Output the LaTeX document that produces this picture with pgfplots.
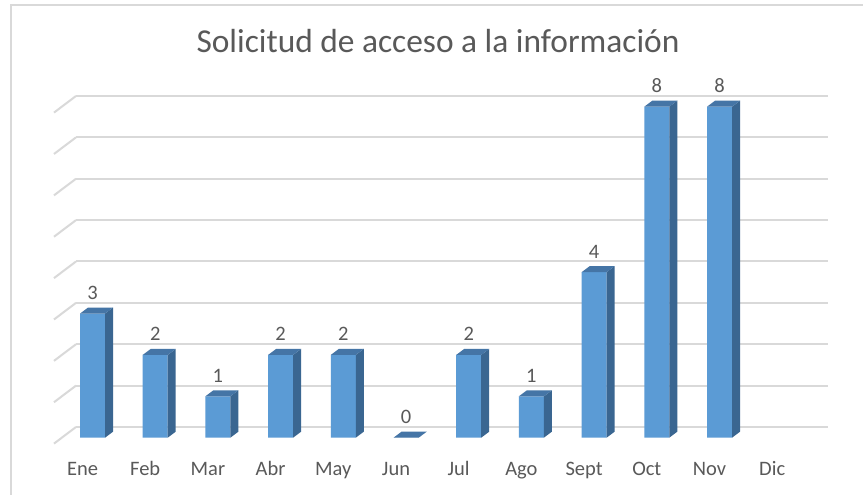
\documentclass[border=0pt]{standalone}
\usepackage{pgfplots}
\pgfplotsset{compat=1.18}
\usepackage{pgfplotstable}
\usepackage{fontspec}
\setmainfont{Carlito}
\definecolor{frontblue}{HTML}{5B9BD5}
\definecolor{sideblue}{HTML}{3A6691}
\definecolor{topblue}{HTML}{4575A6}
\definecolor{gridgray}{HTML}{D9D9D9}
\definecolor{txtgray}{HTML}{595959}
\pgfplotstableread{
x v
0 3
1 2
2 1
3 2
4 2
5 0
6 2
7 1
8 4
9 8
10 8
}\data
\pgfdeclareplotmark{bar3d}{%
  \pgfmathsetmacro\barh{\barv*41.375}%
  \pgfpathmoveto{\pgfpoint{12.5pt}{0pt}}%
  \pgfpathlineto{\pgfpoint{20.5pt}{6pt}}%
  \pgfpathlineto{\pgfpoint{20.5pt}{6pt-\barh pt}}%
  \pgfpathlineto{\pgfpoint{12.5pt}{-\barh pt}}%
  \pgfpathclose
  \pgfsetfillcolor{sideblue}%
  \pgfusepath{fill}%
  \pgfpathmoveto{\pgfpoint{-12.5pt}{0pt}}%
  \pgfpathlineto{\pgfpoint{12.5pt}{0pt}}%
  \pgfpathlineto{\pgfpoint{20.5pt}{6pt}}%
  \pgfpathlineto{\pgfpoint{-4.5pt}{6pt}}%
  \pgfpathclose
  \pgfsetfillcolor{topblue}%
  \pgfusepath{fill}%
}
\begin{document}
\begin{tikzpicture}[x=1pt,y=1pt]
\useasboundingbox (0,0) rectangle (863,495);
\fill[white] (0,0) rectangle (863,495);
\draw[gridgray, line width=2pt] (11,-2) -- (11,490) -- (866,490);
\node[anchor=base, text=txtgray, font=\fontsize{33.4}{38}\selectfont] at (438,442) {Solicitud de acceso a la información};
% back wall
\begin{axis}[
  at={(76pt,68pt)}, anchor=south west,
  x=62.7pt, y=41.375pt,
  xmin=-0.5, xmax=11.5, ymin=0, ymax=8,
  axis line style={draw=none},
  xtick=\empty, ytick={0,...,8}, yticklabels={},
  major tick length=0pt,
  ymajorgrids, grid style={gridgray, line width=2pt},
  clip=false,
]
\pgfplotsinvokeforeach{0,...,8}{\draw[gridgray, line width=2pt] (axis cs:-0.5,#1) -- ++(-22pt,-16.6pt);}
\end{axis}
% bars
\begin{axis}[
  at={(61.15pt,57.3pt)}, anchor=south west,
  x=62.7pt, y=41.375pt,
  xmin=-0.5, xmax=11.5, ymin=0, ymax=8,
  axis line style={draw=none},
  ytick=\empty,
  xtick={0,...,11},
  xticklabels={Ene,Feb,Mar,Abr,May,Jun,Jul,Ago,Sept,Oct,Nov,Dic},
  major tick length=0pt,
  xticklabel style={anchor=base, yshift=-38pt, xshift=-10pt, text=txtgray, font=\fontsize{20.5}{23}\selectfont},
  /pgf/number format/assume math mode=true,
  clip=false,
]
\addplot[ybar, bar width=25pt, fill=frontblue, draw=none,
  nodes near coords,
  every node near coord/.append style={anchor=base, yshift=14pt, text=txtgray, font=\fontsize{20.5}{23}\selectfont}]
  table[x=x,y=v]{\data};
\addplot[only marks, mark=bar3d, visualization depends on={\thisrow{v}\as\barv}]
  table[x=x,y=v]{\data};
\end{axis}
\end{tikzpicture}
\end{document}
